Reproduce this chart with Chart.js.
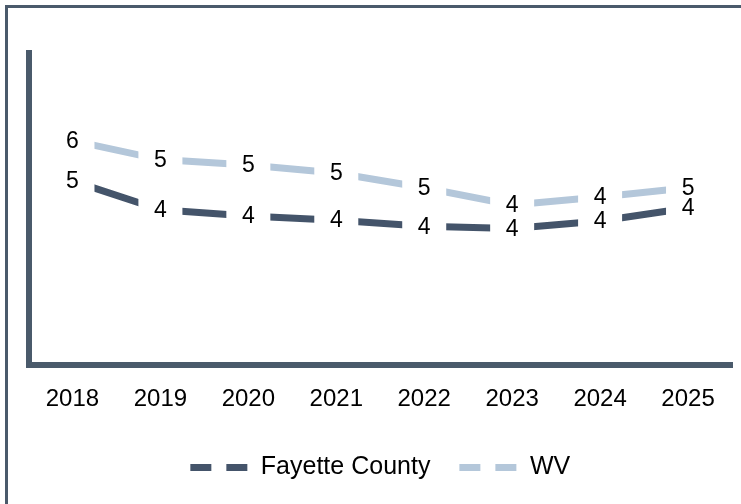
<!DOCTYPE html>
<html>
<head>
<meta charset="utf-8">
<script src="https://cdn.jsdelivr.net/npm/chart.js@4"></script>
<style>
  body { margin: 0; background: #fff; }
  #frame {
    position: absolute; left: 5px; top: 5px; width: 800px; height: 600px;
    border-top: 3px solid #4a5a6b; border-left: 3px solid #4a5a6b;
  }
  #wrap { position: absolute; left: 0; top: 0; width: 741px; height: 504px; }
</style>
</head>
<body>
<div id="frame"></div>
<div id="wrap"><canvas id="chart"></canvas></div>
<script>
// chart data
const years = ['2018', '2019', '2020', '2021', '2022', '2023', '2024', '2025'];
const fayette = [4.84, 4.08, 3.92, 3.81, 3.65, 3.59, 3.79, 4.13];
const wv = [5.90, 5.40, 5.26, 5.05, 4.66, 4.21, 4.42, 4.66];

const darkColor = '#44546a';
const lightColor = '#b4c7da';
const axisColor = '#4a5a6b';

// draw rounded value on a white box over each point
const valueLabels = {
    id: 'valueLabels',
    afterDatasetsDraw(chart) {
        const ctx = chart.ctx;
        const items = [];
        chart.data.datasets.forEach((ds, i) => {
            chart.getDatasetMeta(i).data.forEach((pt, j) => {
                items.push({ x: pt.x, y: pt.y, text: String(Math.round(ds.data[j])) });
            });
        });
        ctx.save();
        ctx.fillStyle = '#fff';
        items.forEach(it => ctx.fillRect(it.x - 22, it.y - 14, 44, 28));
        ctx.font = '23px "Liberation Sans", Arial, sans-serif';
        ctx.fillStyle = '#000';
        ctx.textAlign = 'center';
        ctx.textBaseline = 'middle';
        items.forEach(it => ctx.fillText(it.text, it.x, it.y + 1));
        ctx.restore();
    }
};

new Chart(document.getElementById('chart'), {
    type: 'line',
    data: {
        labels: years,
        datasets: [{
            label: 'Fayette County',
            data: fayette,
            borderColor: darkColor,
            backgroundColor: darkColor,
            borderWidth: 7,
            pointRadius: 0,
            tension: 0
        }, {
            label: 'WV',
            data: wv,
            borderColor: lightColor,
            backgroundColor: lightColor,
            borderWidth: 7,
            pointRadius: 0,
            tension: 0
        }]
    },
    options: {
        responsive: true,
        maintainAspectRatio: false,
        animation: false,
        layout: {
            padding: { top: 53, left: 28.5, right: 9, bottom: 14 }
        },
        scales: {
            x: {
                offset: true,
                grid: { display: false },
                border: { display: true, color: axisColor, width: 6 },
                ticks: {
                    color: '#000',
                    padding: 12,
                    font: { family: '"Liberation Sans", Arial, sans-serif', size: 24 }
                }
            },
            y: {
                min: 0,
                max: 8.2,
                grid: { display: false },
                border: { display: true, color: axisColor, width: 6 },
                ticks: { display: false },
                afterFit: scale => { scale.width = 0; }
            }
        },
        plugins: {
            tooltip: { enabled: false },
            legend: {
                position: 'bottom',
                labels: {
                    usePointStyle: true,
                    pointStyleWidth: 58,
                    boxHeight: 7,
                    padding: 29,
                    color: '#000',
                    font: { family: '"Liberation Sans", Arial, sans-serif', size: 25 },
                    generateLabels: chart => {
                        const items = Chart.defaults.plugins.legend.labels.generateLabels(chart);
                        items.forEach(item => {
                            item.pointStyle = 'line';
                            item.lineWidth = 7;
                            item.lineDash = [21, 15];
                            item.lineCap = 'butt';
                        });
                        return items;
                    }
                }
            }
        }
    },
    plugins: [valueLabels]
});
</script>
</body>
</html>
